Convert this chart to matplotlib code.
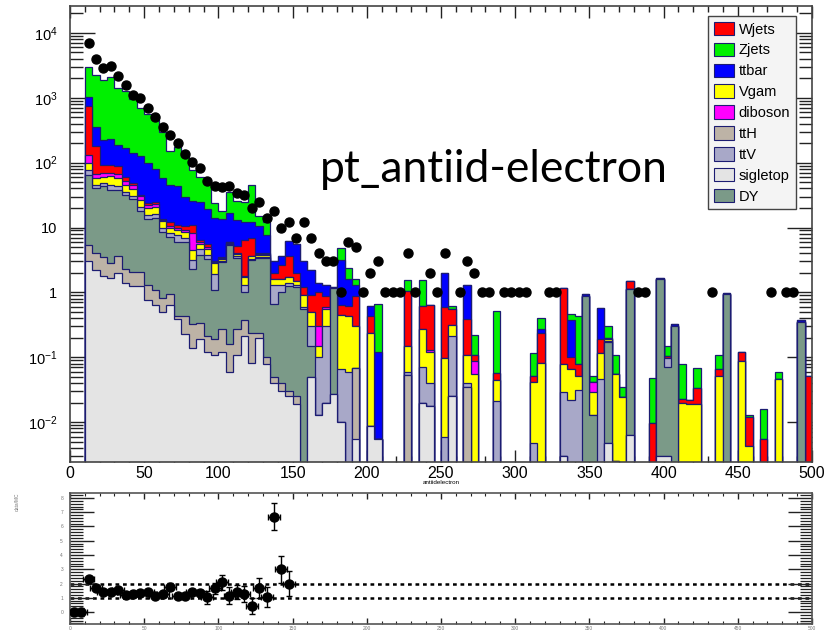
import numpy as np
import matplotlib
matplotlib.use("Agg")
import matplotlib.pyplot as plt
from matplotlib.patches import Patch
from matplotlib.ticker import FixedLocator, MultipleLocator, NullFormatter

plt.rcParams['font.family'] = ['Liberation Sans', 'DejaVu Sans']
plt.rcParams['mathtext.default'] = 'regular'

# binning: 100 bins of 5 GeV
edges = np.arange(0, 505, 5)

# lower edges of the filled bins (dense part 10..175, then the sparse tail)
filled_lo = list(range(10, 180, 5)) + [
    180, 185, 190, 200, 205, 225, 235, 240, 250, 255, 265, 270, 285, 310, 315,
    330, 335, 340, 345, 350, 355, 360, 365, 370, 375, 390, 395, 400, 405, 410,
    415, 420, 435, 440, 450, 455, 465, 475, 490, 495]

# stack levels (top of each layer), bottom layer first
sigletop = [3.0, 2.25, 1.78, 1.64, 2.0, 1.41, 1.26, 1.26, 0.76, 0.65, 0.5, 0.65, 0.39, 0.23, 0.14, 0.19, 0.12,
            0.11, 0.12, 0.06, 0.11, 0.21, 0.083, 0.2, 0.08, 0.04, 0.03, 0.025, 0.019, 0, 0.05, 0.013, 0.02, 0.027,
            .01, 0, .0055, .0088, .0055, 0, .02, .018, 0, .025, 0, 0, 0, 0, 0, .003, 0, 0, 0, 0,
            0, .0048, 0, 0, .0063, 0, .003, .003, 0, 0, 0, 0, 0, 0, 0, 0, 0, 0, 0, 0]
ttH = [5.3, 4.0, 3.5, 2.8, 3.7, 2.3, 2.05, 2.05, 1.28, 1.1, 0.83, 0.94, 0.44, 0.44, 0.32, 0.34, 0.21,
       0.19, 0.27, 0.16, 0.27, 0.38, 0.24, 0.24, 0.1, 0.05, 0.04, 0.03, 0.025, 0, 0.05, 0.013, 0.02, 0.027,
       .01, 0, .068, .0088, .0055, .054, .02, .018, 0, .025, .035, 0, 0, 0, 0, .003, 0, 0, 0, 0,
       0, .0048, .0025, 0, .0063, 0, .003, .003, 0, 0, 0, 0, 0, 0, 0, 0, 0, 0, 0, 0]
DY = [65, 40, 43, 38, 38, 32, 28, 18, 13.6, 14, 8.5, 7.2, 6.0, 6.0, 2.3, 3.8, 3.3,
      1.1, 2.9, 5.3, 3.4, 1.0, 3.2, 3.4, 3.4, 0.66, 1.0, 1.25, 1.2, 0.55, 0.15, 0.013, 0.02, 1.18,
      .01, 0, .068, .0088, .0055, .054, .02, .018, 0, .025, .035, 0, 0, 0, 0, .003, 0, 0, .88, .013,
      0, .17, .0025, 0, 1.12, 0, 1.6, .07, .3, 0, 0, 0, 0, .94, 0, 0, 0, 0, .35, 0]
ttV = [78, 46, 48, 46, 44, 35, 31, 21, 15.5, 16, 10, 8.3, 7.6, 7.0, 3.2, 4.6, 3.8,
       1.9, 3.1, 5.5, 3.6, 1.3, 3.3, 3.5, 3.5, 1.3, 1.3, 1.4, 1.3, 0.6, 0.3, 0.1, 0.3, 1.18,
       .065, .06, .068, .0088, .0055, .06, .07, .04, .006, .215, .04, 0, .021, .0047, 0, .029, .022, .031, .88, .013,
       .046, .18, .0025, 0, 1.12, 0, 1.6, .098, .3, 0, 0, 0, 0, .94, 0, 0, 0, 0, .35, 0]
Vgam = [99, 58, 60, 62, 58, 46, 39, 27, 20, 21, 12.5, 10, 9.3, 8.5, 4.5, 5.6, 4.7,
        2.8, 3.3, 5.8, 3.9, 1.7, 3.6, 3.8, 3.8, 1.6, 1.6, 1.7, 1.5, 0.9, 0.5, 0.15, 0.55, 1.18,
        .45, .43, .3, .24, .0055, .15, .27, .12, .096, .315, .11, .055, .045, .041, .083, .078, .066, .051, .88, .029,
        .118, .19, .055, .024, 1.12, 0, 1.6, .098, .3, .02, .019, .019, .051, .94, .087, .0043, 0, .046, .35, 0]
diboson = [133, 68, 70, 69, 66, 52, 45, 31, 22, 23, 13, 10.5, 10, 9, 8.3, 6.0, 5.0,
           2.9, 3.4, 5.9, 4.0, 1.8, 3.7, 3.9, 3.9, 1.6, 1.6, 1.7, 1.5, 0.9, 0.5, 0.3, 0.6, 1.18,
           .45, .43, .3, .24, .0055, .15, .27, .13, .096, .315, .11, .087, .045, .041, .083, .078, .066, .051, .88, .041,
           .118, .19, .055, .024, 1.12, 0, 1.6, .098, .3, .02, .019, .019, .051, .94, .087, .0043, 0, .046, .35, 0]
Wjets = [750, 180, 93, 93, 89, 60, 48, 32, 24, 25, 13.5, 12, 11, 10.5, 11, 6.5, 5.5,
         3.0, 3.5, 6.0, 5.2, 6.5, 7.0, 4.0, 4.0, 2.0, 2.6, 3.6, 2.0, 1.2, 0.9, 1.0, 0.88, 1.18,
         .65, .62, .88, .43, .0055, 1.05, .62, .63, .6, .545, .39, .11, .058, .051, .24, 1.16, .1, .078, .88, .041,
         .19, .2, .055, .024, 1.48, .0097, 1.63, .105, .3, .023, .022, .033, .066, .94, .12, .012, .0054, .046, .35, .051]
ttbar = [1020, 360, 225, 230, 190, 167, 141, 128, 99, 80, 59, 46, 43, 30, 26, 25, 19,
         14, 13.3, 17, 13, 12, 12, 10.5, 7.8, 3.0, 3.6, 6.3, 5.5, 3.0, 2.2, 1.4, 1.3, 1.22,
         3.2, 1.6, 1.3, .62, .12, 1.05, .62, .63, 2.0, .545, 1.29, .11, .058, .051, .27, 1.16, .38, .078, .95, .041,
         .58, .2, .055, .024, 1.48, .0097, 1.65, .105, .32, .023, .022, .033, .066, .99, .12, .012, .0054, .046, .37, .051]
Zjets = [2930, 2260, 1890, 2080, 1410, 1250, 955, 700, 560, 455, 295, 150, 175, 125, 78, 61, 50,
         24, 18, 35, 26, 25, 46, 15, 12, 3.0, 3.6, 6.3, 5.5, 3.0, 2.2, 1.4, 1.3, 1.22,
         4.9, 2.4, 1.6, .62, .66, 1.55, 1.58, .63, 2.0, .625, 1.29, .22, .52, .118, .41, 1.16, .46, .43, .95, .051,
         .58, .3, .11, .035, 1.48, .048, 1.65, .15, .32, .08, .022, .068, .11, .99, .12, .013, .016, .059, .37, .051]

# data (bin centres and counts)
data_x = [12.5, 17.5, 22.5, 27.5, 32.5, 37.5, 42.5, 47.5, 52.5, 57.5, 62.5, 67.5, 72.5, 77.5, 82.5, 87.5,
          92.5, 97.5, 102.5, 107.5, 112.5, 117.5, 122.5, 127.5, 132.5, 137.5, 142.5, 147.5, 152.5, 157.5,
          162.5, 167.5, 172.5, 177.5, 182.5, 187.5, 192.5, 197.5, 202.5, 207.5, 212.5, 217.5, 222.5, 227.5,
          232.5, 242.5, 247.5, 252.5, 262.5, 267.5, 272.5, 277.5, 282.5, 292.5, 297.5, 302.5, 307.5, 322.5,
          327.5, 382.5, 387.5, 432.5, 472.5, 482.5, 487.5]
data_y = [6900, 3940, 2860, 3100, 2190, 1600, 1120, 980, 690, 510, 355, 270, 200, 138, 104, 83,
          53, 43, 42, 43, 34, 32, 20, 25, 14, 18, 10, 12, 7, 12,
          7, 4, 3, 3, 1, 6, 5, 1, 2, 3, 1, 1, 1, 4,
          1, 2, 1, 4, 1, 3, 2, 1, 1, 1, 1, 1, 1, 1,
          1, 1, 1, 1, 1, 1, 1]

# data/MC ratio
ratio_x = [2.5, 7.5] + list(np.arange(12.5, 150, 5))
ratio_y = [0, 0, 2.3, 1.66, 1.43, 1.43, 1.54, 1.19, 1.26, 1.36, 1.43, 1.12, 1.24, 1.78, 1.12, 1.12,
           1.43, 1.36, 1.03, 1.66, 2.08, 1.15, 1.38, 1.26, 0.42, 1.66, 1.08, 6.69, 3.0, 2.0]
ratio_err = [0.25, 0.25, 0.08, 0.06, 0.06, 0.06, 0.06, 0.06, 0.07, 0.08, 0.08, 0.08, 0.1, 0.26, 0.12, 0.15,
             0.17, 0.2, 0.45, 0.37, 0.55, 0.58, 0.5, 0.55, 0.55, 0.7, 0.7, 0.96, 0.96, 0.89]

samples = ['Wjets', 'Zjets', 'ttbar', 'Vgam', 'diboson', 'ttH', 'ttV', 'sigletop', 'DY']
colors = {'Wjets': '#ff0000', 'Zjets': '#00f000', 'ttbar': '#0000ff', 'Vgam': '#ffff00',
          'diboson': '#ff00ff', 'ttH': '#bdb3a6', 'ttV': '#a8a8c8', 'sigletop': '#e4e4e4', 'DY': '#7b9a88'}
levels = {'sigletop': sigletop, 'ttH': ttH, 'DY': DY, 'ttV': ttV, 'Vgam': Vgam,
          'diboson': diboson, 'Wjets': Wjets, 'ttbar': ttbar, 'Zjets': Zjets}
draw_order = ['Zjets', 'ttbar', 'Wjets', 'diboson', 'Vgam', 'ttV', 'DY', 'ttH', 'sigletop']
navy = '#1c1c72'
floor = 1e-5

fig = plt.figure(figsize=(8.4, 6.31), dpi=100)
ax = fig.add_axes([0.0833, 0.2678, 0.8833, 0.7227])
ax2 = fig.add_axes([0.0833, 0.0111, 0.8833, 0.2076])

idx = (np.array(filled_lo) // 5).astype(int)
for name in draw_order:
    full = np.zeros(len(edges) - 1)
    full[idx] = levels[name]
    full = np.maximum(full, floor)
    ax.stairs(full, edges, baseline=floor, fill=True, facecolor=colors[name],
              edgecolor=navy, linewidth=0.9, zorder=2)

ax.plot(data_x, data_y, 'o', color='black', ms=6.5, zorder=5)

ax.set_yscale('log')
ax.set_xlim(0, 500)
ax.set_ylim(10 ** -2.615, 10 ** 4.415)
ax.yaxis.set_major_locator(FixedLocator([1e-2, 1e-1, 1, 10, 1e2, 1e3, 1e4]))
ax.set_yticklabels(['$10^{-2}$', '$10^{-1}$', '1', '10', '$10^{2}$', '$10^{3}$', '$10^{4}$'])
minors = [m * 10.0 ** e for e in range(-3, 5) for m in range(2, 10)]
ax.yaxis.set_minor_locator(FixedLocator(minors))
ax.yaxis.set_minor_formatter(NullFormatter())
ax.xaxis.set_major_locator(MultipleLocator(50))
ax.xaxis.set_minor_locator(MultipleLocator(10))
ax.tick_params(axis='both', which='both', direction='in', top=True, right=True, color='#222')
ax.tick_params(axis='y', which='major', length=18, width=1, pad=9, labelsize=10.5)
ax.tick_params(axis='y', which='minor', length=9.5, width=1)
ax.tick_params(axis='x', which='major', length=8.5, width=1, pad=3, labelsize=11.5)
ax.tick_params(axis='x', which='minor', length=4.5, width=1)
for s in ax.spines.values():
    s.set_color('#444')
    s.set_linewidth(1.2)
    s.set_zorder(6)

handles = [Patch(facecolor=colors[s], edgecolor=navy, linewidth=0.8) for s in samples]
leg = ax.legend(handles, samples, loc='upper right', bbox_to_anchor=(0.9476, 0.9746),
                bbox_transform=fig.transFigure, borderaxespad=0, fontsize=10.5,
                handlelength=1.4, handleheight=1.05, handletextpad=0.3, labelspacing=0.42,
                borderpad=0.4, fancybox=False, framealpha=1, facecolor='#f4f4f4', edgecolor='#444')
leg.get_frame().set_linewidth(1)
leg.set_zorder(7)

fig.text(0.381, 0.7116, 'pt_antiid-electron', fontsize=32, family=['Lato', 'DejaVu Sans'],
         ha='left', va='baseline')
fig.text(0.525, 0.236, 'antiidelectron', fontsize=4.5, ha='center', va='center')

# ratio panel
ax2.axhline(1, color='black', lw=1.8, ls=(0, (1.5, 1.5)), zorder=1)
ax2.axhline(2, color='black', lw=1.8, ls=(0, (1.5, 1.5)), zorder=1)
ax2.errorbar(ratio_x, ratio_y, yerr=ratio_err, xerr=4, fmt='o', color='black', ms=6.5,
             elinewidth=1, capsize=2, zorder=3)
ax2.set_xlim(0, 500)
ax2.set_ylim(-0.84, 8.35)
ax2.yaxis.set_major_locator(MultipleLocator(1))
ax2.yaxis.set_minor_locator(MultipleLocator(0.2))
ax2.xaxis.set_major_locator(MultipleLocator(50))
ax2.xaxis.set_minor_locator(MultipleLocator(10))
ax2.tick_params(axis='both', which='both', direction='in', top=True, right=True, color='#222',
                labelsize=3.5, labelcolor='#777')
ax2.tick_params(axis='y', which='major', length=17, width=1, pad=5)
ax2.tick_params(axis='y', which='minor', length=9, width=0.9)
ax2.tick_params(axis='x', which='major', length=4, width=1, pad=1.5)
ax2.tick_params(axis='x', which='minor', length=2, width=0.8)
for s in ax2.spines.values():
    s.set_color('#555')
    s.set_linewidth(1.2)
fig.text(0.021, 0.205, 'data/MC', fontsize=3.5, rotation=90, ha='center', va='center', color='#777')

fig.savefig('out.png', dpi=100)
